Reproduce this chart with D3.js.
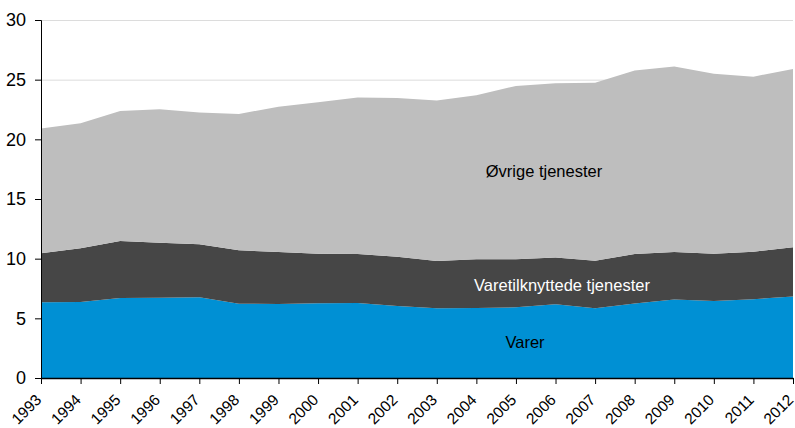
<!DOCTYPE html>
<html><head><meta charset="utf-8">
<script src="https://cdn.jsdelivr.net/npm/d3@7"></script>
<style>body{margin:0;background:#fff}svg{display:block;font-family:"Liberation Sans",Arial,sans-serif}</style>
</head><body><svg id="c" width="795" height="428"></svg>
<script>
const years = [1993,1994,1995,1996,1997,1998,1999,2000,2001,2002,2003,2004,2005,2006,2007,2008,2009,2010,2011,2012];
const varer = [6.34,6.37,6.7,6.73,6.76,6.23,6.2,6.26,6.29,6.03,5.84,5.86,5.92,6.17,5.84,6.24,6.58,6.45,6.6,6.84];
const varetilknyttede = [4.11,4.5,4.78,4.61,4.44,4.47,4.36,4.16,4.1,4.14,3.96,4.09,4.03,3.93,3.98,4.15,3.98,3.97,3.99,4.11];
const ovrige = [10.45,10.48,10.9,11.18,11.04,11.43,12.18,12.68,13.11,13.3,13.45,13.75,14.52,14.6,14.93,15.37,15.54,15.08,14.66,14.95];
const yTicks = [0,5,10,15,20,25,30];
const seriesNames = ["Varer","Varetilknyttede tjenester","Øvrige tjenester"];
const colors = ["#0090d4","#464646","#bebebe"];

const svg = d3.select("#c");
const m = {l:41, r:2, t:20, b:50};
const W = 795, H = 428;
const x = d3.scaleLinear().domain([1993,2012]).range([m.l, W - m.r]);
const y = d3.scaleLinear().domain([0,30]).range([H - m.b, m.t]);

const table = years.map((yr,i)=>({year:yr, "Varer":varer[i], "Varetilknyttede tjenester":varetilknyttede[i], "Øvrige tjenester":ovrige[i]}));
const stack = d3.stack().keys(seriesNames)(table);

// gridlines
svg.append("g").selectAll("line").data(yTicks.filter(d=>d>0)).join("line")
  .attr("x1", m.l).attr("x2", W - m.r)
  .attr("y1", d=>y(d)+0.5).attr("y2", d=>y(d)+0.5)
  .attr("stroke","#dcdcdc").attr("stroke-width",1);

const area = d3.area().x(d=>x(d.data.year)).y0(d=>y(d[0])).y1(d=>y(d[1]));
svg.append("g").selectAll("path").data(stack).join("path")
  .attr("d", area).attr("fill",(d,i)=>colors[i]);

// y axis
const ya = svg.append("g").attr("transform",`translate(${m.l},0)`)
  .call(d3.axisLeft(y).tickValues(yTicks).tickSize(6).tickPadding(9));
ya.select(".domain").attr("stroke","#000");
ya.selectAll(".tick line").attr("stroke","#000");
ya.selectAll("text").attr("font-size",18).attr("fill","#000").attr("font-family","Liberation Sans, Arial, sans-serif");

// x axis
const xa = svg.append("g").attr("transform",`translate(0,${H - m.b})`)
  .call(d3.axisBottom(x).tickValues(years).tickFormat(d3.format("d")).tickSize(6).tickSizeOuter(0));
xa.select(".domain").attr("stroke","#000").attr("stroke-width",1.5);
xa.selectAll(".tick line").attr("stroke","#000");
xa.selectAll("text").attr("font-size",15.5).attr("fill","#000")
  .attr("font-family","Liberation Sans, Arial, sans-serif")
  .attr("text-anchor","end").attr("x",0).attr("y",0).attr("dy","0.35em")
  .attr("transform","translate(-3,19) rotate(-45)");

// labels
svg.append("text").attr("x",544).attr("y",177).attr("text-anchor","middle")
  .attr("font-size",16.5).attr("fill","#000").text("Øvrige tjenester");
svg.append("text").attr("x",562).attr("y",291).attr("text-anchor","middle")
  .attr("font-size",16.5).attr("fill","#fff").text("Varetilknyttede tjenester");
svg.append("text").attr("x",525).attr("y",348).attr("text-anchor","middle")
  .attr("font-size",16.5).attr("fill","#000").text("Varer");
</script></body></html>
